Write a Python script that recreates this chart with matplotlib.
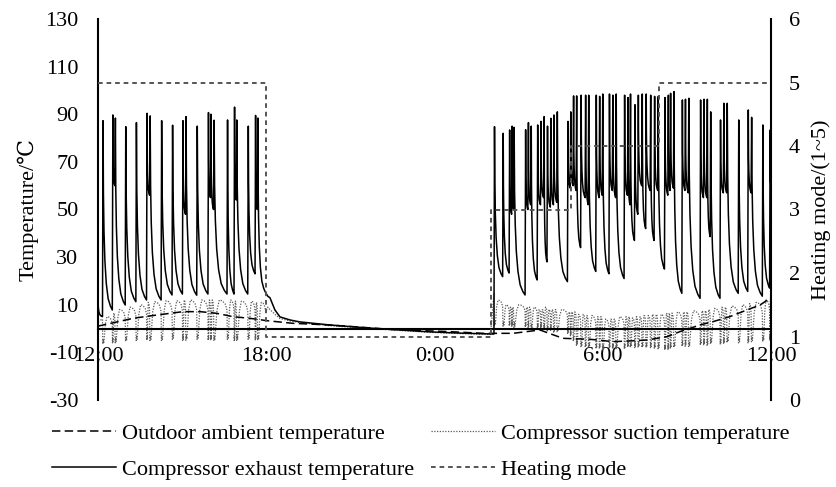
import numpy as np
import matplotlib
matplotlib.use('Agg')
import matplotlib.pyplot as plt
from matplotlib.lines import Line2D

# ---------------- data (hours after 12:00) ----------------
# Heating mode (right axis)
mode_t = [0, 5.98, 14.0, 16.86, 20.0, 24]
mode_v = [5, 1, 3, 4, 5, 5]

# Outdoor ambient temperature
out_t = [0, 0.07, 1.25, 1.85, 3.03, 3.64, 4.24, 4.81, 5.42, 6.03, 6.95, 8.27, 9.34,
         10.52, 11.38, 12.55, 13.73, 14.80, 15.76, 16.58, 17.55, 18.37, 18.97, 19.58,
         20.29, 20.75, 21.47, 21.93, 22.53, 23.14, 23.61, 24.0]
out_v = [1.0, 1.2, 4.3, 5.3, 7.1, 7.1, 6.4, 5.0, 4.3, 3.3, 2.2, 1.5, 0.6,
         -0.4, -0.8, -1.3, -2.0, -2.0, -0.6, -4.1, -4.5, -5.5, -5.2, -4.8,
         -3.4, -1.3, 1.5, 2.9, 5.0, 7.8, 9.9, 13.0]

# Compressor cycles, afternoon block (12:00-18:00)
day_on = [0.16, 0.51, 0.60, 0.97, 1.35, 1.73, 1.84, 2.25, 2.64, 3.01, 3.12, 3.52,
          3.92, 4.01, 4.12, 4.60, 4.85, 4.93, 5.34, 5.60, 5.68]
day_exh_peak = [87.3, 89.7, 88.4, 84.8, 86.5, 90.4, 89.3, 87.3, 85.4, 87.3, 89, 85,
                90.7, 90, 87.5, 87.6, 93, 87.6, 85, 89.5, 88.4]
day_exh_low = [7.8, 60, 9.9, 11.3, 12, 56, 12, 14.1, 14.5, 48, 14, 14.5,
               55, 50, 14.5, 14.5, 54, 14.5, 23, 50, 15.5]
day_suc_top = [5, 6.5, 8, 9, 10, 11, 11.3, 11.7, 11.7, 12, 12, 12,
               12, 12, 12, 12, 11.5, 11.5, 11.5, 11, 11]
day_suc_low = [-6.5, -6, -6, -5.5, -5, -5, -5, -5, -4.5, -5, -5, -4.5,
               -5, -5, -5, -4.5, -5, -5, -4.5, -5, -5]

# Compressor off period (18:00-2:00)
off_t = [6.06, 6.13, 6.31, 6.49, 6.85, 7.20, 8.27, 9.70, 10.77, 11.84, 12.91, 14.0]
off_exh = [13.5, 13, 7.8, 4.9, 3.6, 2.8, 1.5, 0.2, -0.6, -1.4, -1.9, -2.3]
off_suc = [9.0, 8.0, 6.0, 4.2, 3.2, 2.5, 1.2, 0.0, -0.8, -1.6, -2.1, -2.5]

# Compressor cycles, morning block (2:00-12:00), modes 3 / 4 / 5
m3_on = [14.12, 14.43, 14.66, 14.75, 14.82, 15.23, 15.33, 15.43, 15.66, 15.78, 15.89,
         16.01, 16.13, 16.24, 16.36, 16.74, 16.84]
m3_exh_peak = [84.8, 82, 83.4, 85, 84.5, 83.5, 86.5, 85, 85.5, 87, 89, 85, 88.3, 89.7,
               91, 87, 91]
m3_exh_low = [21.8, 23.3, 48, 50, 14.1, 50, 52, 20.4, 52, 55, 28, 51, 52, 53, 19.7, 59, 60]
m3_suc_top = [12, 10, 9, 9, 10, 9, 9, 9, 8, 8, 9, 8, 8, 8, 8, 7, 7]
m3_suc_low = [1, 1, 1, 1, 0.5, 0.5, 0.5, 0, 0, 0, -0.5, -1, -1, -1.5, -1.5, -2, -3]

m4_on = [16.94, 17.05, 17.21, 17.37, 17.48, 17.75, 17.87, 17.98, 18.22, 18.34, 18.46,
         18.76, 18.88, 18.97, 19.13, 19.25, 19.39, 19.53, 19.69, 19.83, 19.96]
m4_exh_peak = [97.7, 97.7, 98, 98, 98, 98, 97.5, 98.5, 98.5, 98, 98.5, 98, 97, 98.5, 94,
               98, 98.5, 98.5, 98, 97.5, 97.5]
m4_exh_low = [58, 34, 55, 52, 24, 55, 56, 23, 58, 55, 21, 56, 52, 37, 48, 60, 42, 58,
              37, 58, 25]
m4_suc_top = [7, 6, 6, 5.5, 5.5, 5, 5, 4, 4, 4, 5, 5, 5, 4.5, 5, 5, 5.5, 5.5, 6, 6, 6]
m4_suc_low = [-5, -7, -7.5, -8, -8, -8.5, -8.5, -9, -8.5, -8.5, -8.5, -8.5, -8, -8, -8,
              -8, -8, -8, -8, -8.5, -8.5]

m5_on = [20.20, 20.32, 20.40, 20.52, 20.82, 20.93, 21.05, 21.47, 21.59, 21.71, 21.83,
         22.18, 22.30, 22.42, 22.83, 23.17, 23.29, 23.69, 23.95]
m5_exh_peak = [97, 98, 98.8, 99.5, 96, 96.3, 96.7, 96, 96.3, 96.3, 91, 87.6, 94.6, 94.6,
               87.6, 91.8, 88.7, 85.5, 83.4]
m5_exh_low = [56, 58, 59, 14.8, 58, 57, 12.7, 55, 55, 38.6, 12.7, 57, 57, 14.8, 15.6,
              57, 13.6, 17, 60]
m5_suc_top = [6.5, 6.5, 6.5, 7, 7, 7, 7.5, 7.5, 7.5, 8, 8.5, 9, 9, 9.5, 10, 10.5, 11,
              12, 12.5]
m5_suc_low = [-9, -9, -8.5, -8, -7.5, -7.5, -7.5, -7, -7, -7, -6.5, -6.5, -6.5, -6, -6,
              -6, -5.5, -5.5, -5]

x_ticks = [0, 6, 12, 18, 24]
x_labels = ['12:00', '18:00', '0:00', '6:00', '12:00']
y_ticks = list(range(-30, 131, 20))
y2_ticks = list(range(0, 7))

# ---------------- curve shapes observed in the picture ----------------
DECAY_S = [0.04, 0.1, 0.2, 0.35, 0.55, 0.8, 1.0]
DECAY_F = [0.62, 0.42, 0.26, 0.14, 0.06, 0.02, 0.0]
ARCH_S = [0.15, 0.35, 0.6, 0.85, 1.0]
ARCH_G = [0.75, 1.0, 0.98, 0.9, 0.75]
RISE = 0.02


def exhaust_block(t_on, peaks, lows, t0, v0, low0, t_end):
    xs, ys = [t0], [v0]
    pt, pv, plow = t0, v0, low0
    for ton, pk, lw in zip(t_on, peaks, lows):
        for s, f in zip(DECAY_S, DECAY_F):
            xs.append(pt + s * (ton - pt)); ys.append(plow + (pv - plow) * f)
        xs.append(ton + RISE); ys.append(pk)
        pt, pv, plow = ton + RISE, pk, lw
    for s, f in zip(DECAY_S, DECAY_F):
        xs.append(pt + s * (t_end - pt)); ys.append(plow + (pv - plow) * f)
    return xs, ys


def suction_block(t_on, lows, tops, t0, v0, pre0, t_end):
    xs, ys = [t0, t_on[0]], [v0, pre0]
    n = min(len(t_on), len(lows), len(tops))
    for i in range(n):
        ton = t_on[i]
        tn = t_on[i + 1] if i + 1 < n else t_end
        dt = tn - ton
        on = min(0.06, 0.35 * dt)
        lo, tp = lows[i], tops[i]
        xs += [ton + 0.2 * on, ton + 0.5 * on, ton + 0.8 * on]
        ys += [lo, lo + 2.0, lo + 0.5]
        ta = ton + on
        for s, g in zip(ARCH_S, ARCH_G):
            xs.append(ta + s * (tn - ta)); ys.append(lo + (tp - lo) * g)
    return xs, ys


night_on = m3_on + m4_on + m5_on
night_peak = m3_exh_peak + m4_exh_peak + m5_exh_peak
night_low = m3_exh_low + m4_exh_low + m5_exh_low
night_suc_top = m3_suc_top + m4_suc_top + m5_suc_top
night_suc_low = m3_suc_low + m4_suc_low + m5_suc_low

ex1, ey1 = exhaust_block(day_on, day_exh_peak, day_exh_low, 0.0, 13.0, 5.0, 5.96)
ex2, ey2 = exhaust_block(night_on, night_peak, night_low, 14.0, -2.3, -2.3, 24.0)
exh_x = ex1 + off_t + ex2[1:]
exh_y = ey1 + off_exh + ey2[1:]

sx1, sy1 = suction_block(day_on, day_suc_low, day_suc_top, 0.0, 3.0, 4.0, 5.98)
sx2, sy2 = suction_block(night_on, night_suc_low, night_suc_top, 14.0, -2.5, 15.0, 24.0)
suc_x = sx1 + off_t + sx2[1:]
suc_y = sy1 + off_suc + sy2[1:]

# ---------------- plotting ----------------
plt.rcParams['font.family'] = ['Liberation Serif', 'DejaVu Serif', 'DejaVu Sans']
plt.rcParams['font.size'] = 16
plt.rcParams['axes.unicode_minus'] = False

W, H = 836, 487
fig = plt.figure(figsize=(W / 100, H / 100), dpi=100)
L, R, T, B = 98, 771, 19, 400
ax = fig.add_axes([L / W, 1 - B / H, (R - L) / W, (B - T) / H])

suc_style = dict(color='#5a5a5a', lw=0.9, linestyle=(0, (1.0, 1.2)))
out_style = dict(color='black', lw=1.1, linestyle=(0, (5.5, 2.8)))
exh_style = dict(color='black', lw=1.1, linestyle='-')
mode_style = dict(color='#555555', lw=1.4, linestyle=(0, (2.4, 2.0)))

ax.plot(suc_x, suc_y, **suc_style)
ax.plot(out_t, out_v, **out_style)
ax.plot(exh_x, exh_y, **exh_style)

ax.set_xlim(0, 24)
ax.set_ylim(-30, 130)
ax.set_xticks(x_ticks)
ax.set_xticklabels(x_labels)
ax.set_yticks(y_ticks)
ax.spines['bottom'].set_position(('data', 0))
ax.spines['bottom'].set_linewidth(1.5)
ax.spines['left'].set_linewidth(1.5)
ax.spines['top'].set_visible(False)
ax.spines['right'].set_visible(False)
ax.tick_params(axis='x', length=0, pad=13)
ax.tick_params(axis='y', length=0, pad=14)
ax.set_ylabel('Temperature/℃')
ax.yaxis.set_label_coords(-0.0877, 0.50)
ax.patch.set_alpha(0)

ax2 = ax.twinx()
ax2.plot(mode_t, mode_v, drawstyle='steps-post', **mode_style)
ax2.set_ylim(0, 6)
ax2.set_yticks(y2_ticks)
for s in ['top', 'bottom', 'left']:
    ax2.spines[s].set_visible(False)
ax2.spines['right'].set_linewidth(1.5)
ax2.tick_params(axis='y', length=0, pad=13)
ax2.set_ylabel('Heating mode/(1~5)', rotation=90)
ax2.yaxis.set_label_coords(1.0594, 0.50)

handles = [Line2D([], [], **out_style), Line2D([], [], **exh_style),
           Line2D([], [], **suc_style), Line2D([], [], **mode_style)]
labels = ['Outdoor ambient temperature', 'Compressor exhaust temperature',
          'Compressor suction temperature', 'Heating mode']
fig.legend(handles, labels, ncol=2, loc='upper left',
           bbox_to_anchor=(52 / W, 1 - 423 / H), frameon=False,
           borderpad=0, borderaxespad=0, handlelength=2.9, handletextpad=0.25,
           columnspacing=0.75, labelspacing=0.72, fontsize=16)

fig.savefig('out.png', dpi=100)
